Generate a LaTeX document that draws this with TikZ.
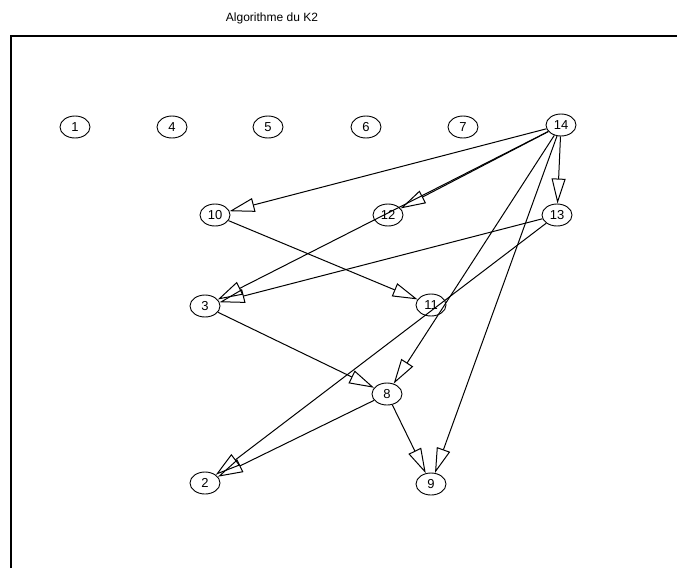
\documentclass[tikz,border=0pt]{standalone}
\usepackage{fontspec}
\setmainfont{Liberation Sans}
\usetikzlibrary{shapes.geometric}
\usetikzlibrary{arrows.meta}
\tikzstyle{var} = [ellipse,draw=black,line width=0.9pt,inner sep=0pt,minimum width=30pt,minimum height=22pt,font=\fontsize{13}{13}\selectfont]
\tikzstyle{arc} = [line width=1pt,-{Triangle[open,length=25pt,width=14pt]}]

\begin{document}
\begin{tikzpicture}[x=1pt,y=-1pt]
\useasboundingbox (0,0) rectangle (677,568);

% Frame and title
\draw[line width=1.4pt] (11,568) |- (677,36);
\node[font=\fontsize{12}{12}\selectfont] (title) at (272,18) {Algorithme du K2};

% Define nodes
\node[var] (n1)  at (75,127)  {1};
\node[var] (n4)  at (172,127) {4};
\node[var] (n5)  at (268,127) {5};
\node[var] (n6)  at (366,127) {6};
\node[var] (n7)  at (463,127) {7};
\node[var] (n14) at (561,125) {14};

\node[var] (n10) at (215,215) {10};
\node[var] (n12) at (388,215) {12};
\node[var] (n13) at (557,215) {13};

\node[var] (n3)  at (205,306) {3};
\node[var] (n11) at (431,305) {11};

\node[var] (n8)  at (387,394) {8};

\node[var] (n2)  at (205,483) {2};
\node[var] (n9)  at (431,484) {9};

% Edges
\draw[arc] (n14) -- (n10);
\draw[arc] (n14) -- (n12);
\draw[arc] (n14) -- (n13);
\draw[arc] (n14) -- (n3);
\draw[arc] (n14) -- (n8);
\draw[arc] (n14) -- (n9);
\draw[arc] (n13) -- (n3);
\draw[arc] (n13) -- (n2);
\draw[arc] (n10) -- (n11);
\draw[arc] (n3)  -- (n8);
\draw[arc] (n8)  -- (n2);
\draw[arc] (n8)  -- (n9);
\end{tikzpicture}
\end{document}
